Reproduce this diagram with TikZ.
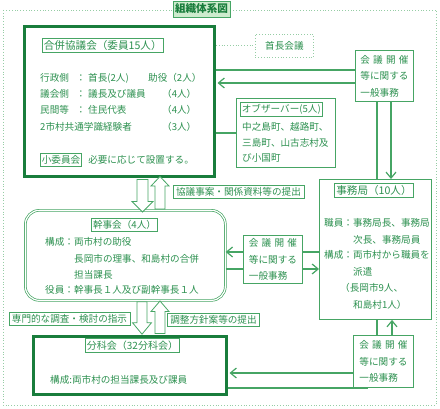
\documentclass[tikz,border=0pt]{standalone}
\usepackage{fontspec}
\setmainfont{Noto Sans CJK JP}
\usetikzlibrary{positioning}
\usetikzlibrary{arrows.meta}
\definecolor{dkgreen}{RGB}{25,125,60}
\definecolor{mdgreen}{RGB}{70,165,100}
\definecolor{txtgreen}{RGB}{45,145,80}
\definecolor{ltgreen}{RGB}{150,205,165}
\definecolor{ttlfill}{RGB}{205,235,205}
\newcommand\fsbody{\fontsize{9.6}{12}\selectfont}
\newcommand\fshead{\fontsize{10.6}{13}\selectfont}

\begin{document}
\begin{tikzpicture}[
x=1pt, y=-1pt,
every node/.style={inner sep=0, text=txtgreen, font=\fsbody},
box/.style={draw=mdgreen, line width=0.9pt, fill=white, anchor=north west},
thickbox/.style={draw=dkgreen, line width=3pt, fill=white, anchor=north west},
ttl/.style={draw=mdgreen, line width=0.7pt, fill=white, inner xsep=1.5pt, inner ysep=2pt},
lbl/.style={ttl, inner xsep=3pt},
txt/.style={anchor=west},
ippan/.style={box, align=left, font=\fontsize{9.6}{16.5}\selectfont},
link/.style={draw=mdgreen, line width=1.2pt},
arr/.style={link, -{Straight Barb[length=6pt,width=10pt]}},
hollow/.style={draw=mdgreen, fill=white, line width=0.8pt},
dots/.style={draw=ltgreen, line width=0.8pt, dotted}
]
\useasboundingbox (0,0) rectangle (440,409);
\draw[dots] (3,10) rectangle (436,405);
\node[draw=mdgreen, fill=ttlfill, font=\fshead\bfseries, text=dkgreen, inner xsep=2pt, minimum height=16pt] (title) at (201.5,9) {組織体系図};

% 合併協議会
\node[thickbox, minimum width=190pt, minimum height=150pt] (kyogikai) at (23,25) {};
\node[ttl, font=\fshead, anchor=north west] (kyogikaiT) at (42,38) {合併協議会（委員15人）};
\node[txt] (gyosei) at (40,78) {\makebox[36pt][l]{行政側}\makebox[12pt][l]{：}\makebox[60pt][l]{首長(2人)}助役（2人）};
\node[txt] (gikai) at (40,94) {\makebox[36pt][l]{議会側}\makebox[12pt][l]{：}\makebox[74pt][l]{議長及び議員}（4人）};
\node[txt] (minkan) at (40,110) {\makebox[36pt][l]{民間等}\makebox[12pt][l]{：}\makebox[74pt][l]{住民代表}（4人）};
\node[txt] (gakushiki) at (40,127) {\makebox[122pt][l]{2市村共通学識経験者}（3人）};
\node[ttl, anchor=west] (shoiinkai) at (40,160) {小委員会};
\node[txt, right=6pt of shoiinkai] (hitsuyo) {必要に応じて設置する。};

\node[box, dots, minimum width=58pt, minimum height=23pt] (shucho) at (255,34) {首長会議};
\node[ippan, minimum width=58pt, minimum height=51pt] (ippan1) at (355,50) {\makebox[48pt][s]{会\hfil 議\hfil 開\hfil 催}\\等に関する\\一般事務};

% オブザーバー
\node[box, minimum width=99pt, minimum height=69pt] (observer) at (236,98) {};
\node[ttl, anchor=north west] (observerT) at (240,102) {オブザーバー(5人)};
\node[txt] (obs1) at (242,127) {中之島町、越路町、};
\node[txt] (obs2) at (242,143) {三島町、山古志村及};
\node[txt] (obs3) at (242,158) {び小国町};

% 事務局
\node[box, minimum width=112pt, minimum height=140pt] (jimukyoku) at (319,179) {};
\node[ttl, font=\fshead] (jimukyokuT) at (374,190) {事務局（10人）};
\node[txt] (jim1) at (324,223) {職員：事務局長、事務局};
\node[txt] (jim2) at (353,240) {次長、事務局員};
\node[txt] (jim3) at (324,255) {構成：両市村から職員を};
\node[txt] (jim4) at (353,272) {派遣};
\node[txt] (jim5) at (340,288) {（長岡市9人、};
\node[txt] (jim6) at (353,305) {和島村1人）};

% 幹事会
\node[box, line width=0.7pt, double=white, double distance=1.2pt, rounded corners=14pt, minimum width=200pt, minimum height=90pt] (kanjikai) at (25,210) {};
\node[ttl] (kanjikaiT) at (124.5,225) {幹事会（4人）};
\node[txt] (kan1) at (45,242) {構成：両市村の助役};
\node[txt] (kan2) at (74,259) {長岡市の理事、和島村の合併};
\node[txt] (kan3) at (74,275) {担当課長};
\node[txt] (kan4) at (45,290) {役員：幹事長１人及び副幹事長１人};
\node[ippan, minimum width=59pt, minimum height=48pt] (ippan2) at (243,235) {\makebox[48pt][s]{会\hfil 議\hfil 開\hfil 催}\\等に関する\\一般事務};

% 分科会
\node[thickbox, minimum width=193pt, minimum height=58pt] (bunkakai) at (32,335) {};
\node[ttl, font=\fontsize{10}{12}\selectfont] (bunkakaiT) at (132.5,345.5) {分科会（32分科会）};
\node[txt] (bun1) at (50,380) {構成:両市村の担当課長及び課員};
\node[ippan, minimum width=60pt, minimum height=52pt] (ippan3) at (353,335) {\makebox[48pt][s]{会\hfil 議\hfil 開\hfil 催}\\等に関する\\一般事務};

\node[lbl] (teishutsu1) at (238.5,191.5) {協議事案・関係資料等の提出};
\node[lbl] (shiji) at (69.5,318.5) {専門的な調査・検討の指示};
\node[lbl] (teishutsu2) at (213.5,319.5) {調整方針案等の提出};

% connectors
\draw[dots] (kyogikai.east |- shucho.west) -- (shucho.west);
\draw[link] (kyogikai.east |- 0,70) -- (ippan1.west |- 0,70);
\draw[arr, shorten >=1.5pt] (ippan1.west |- 0,83) -- (kyogikai.east |- 0,83);
\draw[link] (kyogikai.east |- observer.west) -- (observer.west);
\draw[link] (ippan1.south -| 377,0) -- (jimukyoku.north -| 377,0);
\draw[arr] (ippan1.south -| 391,0) -- (jimukyoku.north -| 391,0);
\draw[arr] (ippan2.west |- 0,252) -- (kanjikai.east |- 0,252);
\draw[link] (jimukyoku.west |- 0,252) -- (ippan2.east |- 0,252);
\draw[link] (kanjikai.east |- 0,269) -- (ippan2.west |- 0,269);
\draw[arr] (ippan2.east |- 0,269) -- (jimukyoku.west |- 0,269);
\draw[link] (ippan3.north -| 377,0) -- (jimukyoku.south -| 377,0);
\draw[arr] (ippan3.north -| 392,0) -- (jimukyoku.south -| 392,0);
\draw[arr, shorten >=1.5pt] (ippan3.west |- 0,373) -- (bunkakai.east |- 0,373);
\coordinate (ippan3foot) at (368,388);
\draw[link] (bunkakai.east |- ippan3foot) -- (ippan3foot);

% hollow arrows
\draw[hollow] ([shift={(114,1.5)}]kyogikai.south west) -- ++(11,0) -- ++(0,22) -- ++(5,0) -- ++(-10.5,10.5) -- ++(-10.5,-10.5) -- ++(5,0) -- cycle;
\draw[hollow] ([shift={(130,-1)}]kanjikai.north west) -- ++(10,0) -- ++(0,-23) -- ++(4,0) -- ++(-9,-9.5) -- ++(-9,9.5) -- ++(4,0) -- cycle;
\draw[hollow] ([shift={(112,1)}]kanjikai.south west) -- ++(10,0) -- ++(0,21) -- ++(4.5,0) -- ++(-9.5,11.5) -- ++(-9.5,-11.5) -- ++(4.5,0) -- cycle;
\draw[hollow] ([shift={(123,-1.5)}]bunkakai.north west) -- ++(10,0) -- ++(0,-22) -- ++(4,0) -- ++(-9,-10.5) -- ++(-9,10.5) -- ++(4,0) -- cycle;
\end{tikzpicture}
\end{document}
